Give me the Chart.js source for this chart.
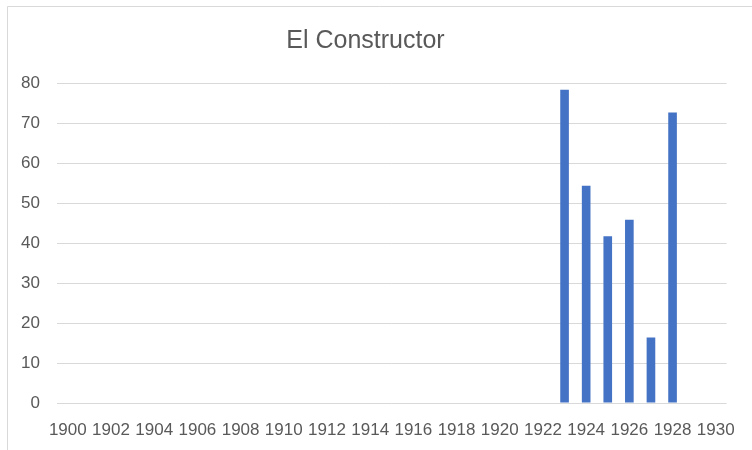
<!DOCTYPE html>
<html>
<head>
<meta charset="utf-8">
<script src="https://cdn.jsdelivr.net/npm/chart.js@4/dist/chart.umd.min.js"></script>
<style>
  body { margin: 0; background: #fff; }
  #wrap { width: 752px; height: 450px; position: relative; }
</style>
</head>
<body>
<div id="wrap"><canvas id="myChart" width="752" height="450"></canvas></div>
<script>
const anios = [
  "1900", "1901", "1902", "1903", "1904", "1905", "1906", "1907", "1908", "1909",
  "1910", "1911", "1912", "1913", "1914", "1915", "1916", "1917", "1918", "1919",
  "1920", "1921", "1922", "1923", "1924", "1925", "1926", "1927", "1928", "1929",
  "1930"
];
const valores = [
  null, null, null, null, null, null, null, null, null, null,
  null, null, null, null, null, null, null, null, null, null,
  null, null, null, 78.3, 54.3, 41.7, 45.8, 16.4, 72.6, null,
  null
];
const ticksY = [0, 10, 20, 30, 40, 50, 60, 70, 80];
const titulo = "El Constructor";

const colorTexto = "#595959";
const colorGrilla = "#d9d9d9";
const fuente = "'Liberation Sans', Arial, sans-serif";

// marco del grafico (borde izquierdo y superior como en la imagen)
const marco = {
  id: "marco",
  beforeDraw(chart) {
    const ctx = chart.ctx;
    ctx.save();
    ctx.fillStyle = "#fff";
    ctx.fillRect(0, 0, chart.width, chart.height);
    ctx.strokeStyle = colorGrilla;
    ctx.lineWidth = 1;
    ctx.beginPath();
    ctx.moveTo(7.5, chart.height);
    ctx.lineTo(7.5, 6.5);
    ctx.lineTo(chart.width, 6.5);
    ctx.stroke();
    ctx.restore();
  }
};

const myChart = document.getElementById("myChart");
const grafico = new Chart(myChart, {
  type: "bar",
  data: {
    labels: anios,
    datasets: [{
      label: titulo,
      data: valores,
      backgroundColor: "#4472c4",
      borderWidth: 0,
      barPercentage: 0.4,
      categoryPercentage: 1
    }]
  },
  options: {
    responsive: false,
    animation: false,
    layout: { padding: { left: 0, right: 21, top: 0, bottom: 0 } },
    plugins: {
      legend: { display: false },
      tooltip: { enabled: false },
      title: {
        display: true,
        text: titulo,
        color: colorTexto,
        font: { family: fuente, size: 25, weight: "normal" },
        padding: { top: 26, bottom: 27 }
      }
    },
    scales: {
      x: {
        grid: { display: false, drawTicks: false },
        border: { display: false },
        ticks: {
          autoSkip: false,
          maxRotation: 0,
          minRotation: 0,
          padding: 17,
          color: colorTexto,
          font: { family: fuente, size: 17 },
          callback: function(valor, i) {
            return i % 2 === 0 ? anios[i] : "";
          }
        },
        afterFit: function(scale) { scale.height = 47; }
      },
      y: {
        min: 0,
        max: 80,
        afterBuildTicks: function(scale) {
          scale.ticks = ticksY.map(v => ({ value: v }));
        },
        grid: { color: colorGrilla, lineWidth: 1, drawTicks: false },
        border: { display: false },
        ticks: {
          padding: 17,
          color: colorTexto,
          font: { family: fuente, size: 17 }
        },
        afterFit: function(scale) { scale.width = 57; }
      }
    }
  },
  plugins: [marco]
});
</script>
</body>
</html>
